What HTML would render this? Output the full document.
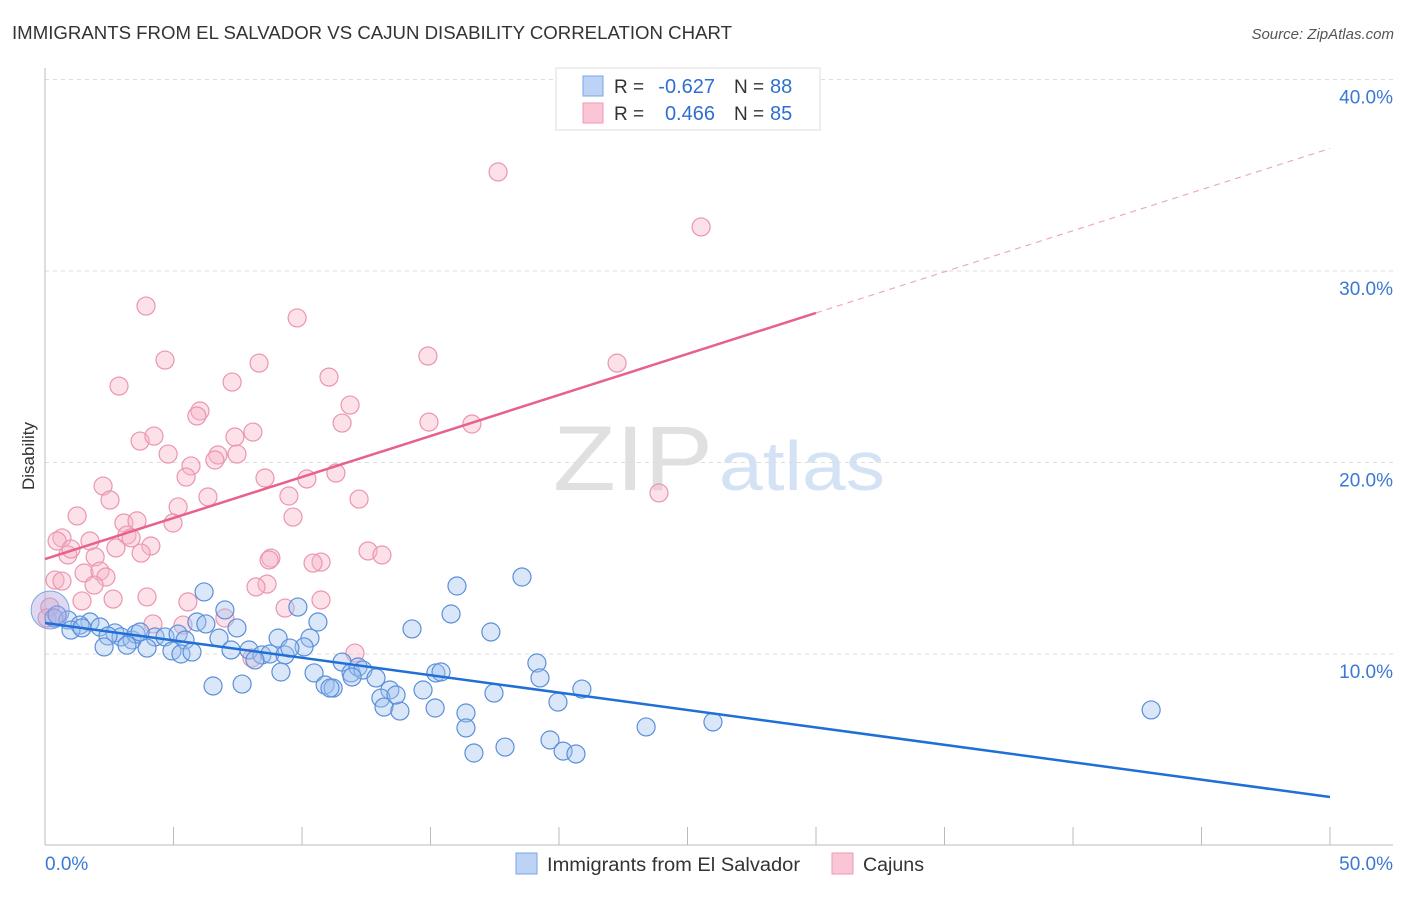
<!DOCTYPE html>
<html><head><meta charset="utf-8"><style>
body{margin:0;background:#fff;font-family:"Liberation Sans",sans-serif;}
svg text{font-family:"Liberation Sans",sans-serif;}
</style></head><body>
<svg id="chart" width="1406" height="892" xmlns="http://www.w3.org/2000/svg">
<text x="12" y="39" font-size="18" fill="#333" textLength="720" lengthAdjust="spacingAndGlyphs">IMMIGRANTS FROM EL SALVADOR VS CAJUN DISABILITY CORRELATION CHART</text>
<text x="1394" y="39" font-size="15" fill="#555" font-style="italic" text-anchor="end">Source: ZipAtlas.com</text>
<g>
<text x="553" y="490" font-size="92" fill="#e0e0e0" font-family="Liberation Serif" textLength="160" lengthAdjust="spacingAndGlyphs">ZIP</text>
<text x="719" y="490" font-size="70" fill="#d3e2f5" textLength="166" lengthAdjust="spacingAndGlyphs">atlas</text>
</g>
<g id="grid"></g>
<g id="axes"></g>
<text transform="translate(34,456) rotate(-90)" font-size="17" fill="#333" text-anchor="middle">Disability</text>
<g id="pts"></g>
<g id="lines"></g>
<g>
<rect x="556" y="68" width="264" height="62" fill="#fff" stroke="#ddd"/>
<rect x="583" y="76" width="20" height="20" fill="#bcd3f5" stroke="#7aa6e4"/>
<rect x="583" y="103" width="20" height="20" fill="#fac5d5" stroke="#ef9ab6"/>
<text x="614" y="93" font-size="19" fill="#333">R =</text>
<text x="715" y="93" font-size="20" fill="#2f6fd0" text-anchor="end">-0.627</text>
<text x="734" y="93" font-size="19" fill="#333">N =</text>
<text x="770" y="93" font-size="20" fill="#2f6fd0">88</text>
<text x="614" y="120" font-size="19" fill="#333">R =</text>
<text x="715" y="120" font-size="20" fill="#2f6fd0" text-anchor="end">0.466</text>
<text x="734" y="120" font-size="19" fill="#333">N =</text>
<text x="770" y="120" font-size="20" fill="#2f6fd0">85</text>
</g>
<g>
<rect x="516" y="853" width="21" height="21" fill="#bcd3f5" stroke="#7aa6e4"/>
<text x="547" y="871" font-size="19" fill="#333" textLength="253" lengthAdjust="spacingAndGlyphs">Immigrants from El Salvador</text>
<rect x="832" y="853" width="21" height="21" fill="#fac5d5" stroke="#ef9ab6"/>
<text x="863" y="871" font-size="19" fill="#333" textLength="61" lengthAdjust="spacingAndGlyphs">Cajuns</text>
</g>
</svg>
<script>
const blueX=[18.56,16.03,6.19,9.84,7.0,15.8,10.62,14.28,17.35,0.35,0.89,1.75,1.36,2.14,1.01,2.72,2.96,2.45,3.39,3.54,4.28,4.67,5.18,5.45,5.91,7.47,6.26,3.97,3.19,2.3,4.94,5.29,5.72,6.77,9.07,10.31,7.24,7.94,8.44,8.75,9.34,10.08,11.56,9.53,8.17,6.54,7.67,9.18,10.47,10.9,11.21,11.91,12.18,12.37,12.88,13.42,13.07,13.19,13.81,13.66,14.71,15.21,15.41,15.18,16.38,16.38,16.69,17.47,17.9,19.14,19.26,19.65,19.96,20.16,20.66,20.89,23.39,25.99,43.04,0.47,11.09,11.95,3.7,1.44];
const blueY=[14.02,13.55,13.24,12.45,12.3,12.09,11.67,11.31,11.15,11.88,11.78,11.67,11.51,11.41,11.25,11.1,10.89,10.94,10.73,11.04,10.89,10.89,11.04,10.73,11.67,11.36,11.57,10.31,10.46,10.37,10.16,10.0,10.1,10.83,10.83,10.83,10.21,10.21,9.95,10.0,9.95,10.37,9.58,10.31,9.69,8.33,8.43,9.06,9.01,8.38,8.22,9.01,9.32,9.16,8.75,8.12,7.7,7.23,7.02,7.86,8.12,9.01,9.06,7.18,6.92,6.14,4.83,7.96,5.14,9.53,8.75,5.51,7.49,4.93,4.78,8.17,6.19,6.45,7.08,12.04,8.22,8.8,11.15,11.36];
const pinkX=[3.93,4.67,9.81,2.88,8.33,7.28,14.9,22.26,11.05,6.03,5.91,11.87,11.56,14.94,16.61,3.7,4.24,8.09,7.39,4.79,7.47,6.73,6.61,5.68,5.49,11.32,8.56,10.19,2.26,6.34,2.53,9.49,12.22,5.18,23.89,1.25,4.98,9.65,3.07,3.58,0.66,1.75,3.19,3.35,4.12,2.76,0.47,0.89,1.01,3.74,1.95,12.57,13.11,8.79,8.72,10.74,10.43,0.39,0.66,1.52,2.14,2.37,1.91,8.64,8.21,3.97,1.44,2.65,5.56,4.2,0.19,0.08,7.0,9.34,10.74,5.37,12.06,8.05,17.63,25.53];
const pinkY=[28.17,25.35,27.55,23.99,25.19,24.2,25.56,25.19,24.46,22.69,22.43,23.0,22.06,22.11,22.01,21.12,21.38,21.59,21.33,20.44,20.44,20.39,20.13,19.82,19.24,19.45,19.19,19.14,18.77,18.2,18.04,18.25,18.09,17.68,18.41,17.21,16.84,17.15,16.84,16.95,16.06,15.9,16.21,16.06,15.64,15.54,15.9,15.17,15.48,15.27,15.07,15.38,15.17,15.01,14.91,14.8,14.75,13.86,13.81,14.23,14.33,14.02,13.6,13.65,13.5,12.98,12.77,12.87,12.72,11.57,12.45,11.88,11.88,12.4,12.82,11.51,10.05,9.79,35.17,32.3];
const blueTrend=[11.62,2.53];
const pinkTrend=[14.96,27.81,36.4];
const yTicks=[10,20,30,40];
const xTicks=[0,5,10,15,20,25,30,35,40,45,50];
const NS='http://www.w3.org/2000/svg';
const sx=v=>45+v*25.7;
const sy=v=>845.5-v*19.15;
function mk(tag,attrs,parent){const e=document.createElementNS(NS,tag);for(const k in attrs)e.setAttribute(k,attrs[k]);parent.appendChild(e);return e;}
const grid=document.getElementById('grid'),axes=document.getElementById('axes'),pts=document.getElementById('pts'),lines=document.getElementById('lines');
yTicks.forEach(t=>{
 const l=mk('line',{x1:45,x2:1393,y1:sy(t),y2:sy(t),stroke:'#ddd','stroke-dasharray':'4,4'},grid);
 
 
 const tx=mk('text',{x:1393,y:sy(t)+24,'font-size':19,fill:'#3a78d4','text-anchor':'end'},axes);
 tx.textContent=t.toFixed(1)+'%';
 
 
});
mk('line',{x1:45,x2:45,y1:68,y2:845,stroke:'#bbb'},axes);
mk('line',{x1:45,x2:1393,y1:845,y2:845,stroke:'#bbb'},axes);
xTicks.forEach(t=>{
 const l=mk('line',{x1:sx(t),x2:sx(t),y1:827,y2:845,stroke:'#bbb'},axes);
 
 
});
[[0,'0.0%','start',45],[50,'50.0%','end',1393]].forEach(a=>{
 const tx=mk('text',{x:a[3],y:870,'font-size':19,fill:'#3a78d4','text-anchor':a[2]},axes);
 tx.textContent=a[1];
 
 
});
function dots(X,Y,fill,stroke,name){X.forEach((x,i)=>{
 const c=mk('circle',{cx:sx(x),cy:sy(Y[i]),r:9,fill:fill,stroke:stroke,'stroke-width':1.2},pts);
 
 
});}
dots(pinkX,pinkY,'rgba(248,180,200,0.4)','#eb95b0','cajun-point');
dots(blueX,blueY,'rgba(160,196,240,0.4)','#5b8fd9','el-salvador-point');
const big=mk('circle',{cx:sx(0.2),cy:sy(12.3),r:19,fill:'rgba(170,160,220,0.4)',stroke:'#7aa6e4'},pts);


const bl=mk('line',{x1:sx(0),y1:sy(blueTrend[0]),x2:sx(50),y2:sy(blueTrend[1]),stroke:'#1f6fd6','stroke-width':2.5},lines);


const pl=mk('line',{x1:sx(0),y1:sy(pinkTrend[0]),x2:sx(30),y2:sy(pinkTrend[1]),stroke:'#e8618c','stroke-width':2.5},lines);


const pd=mk('line',{x1:sx(30),y1:sy(pinkTrend[1]),x2:sx(50),y2:sy(pinkTrend[2]),stroke:'#eeaabd','stroke-width':1.2,'stroke-dasharray':'6,5'},lines);


</script>
</body></html>
